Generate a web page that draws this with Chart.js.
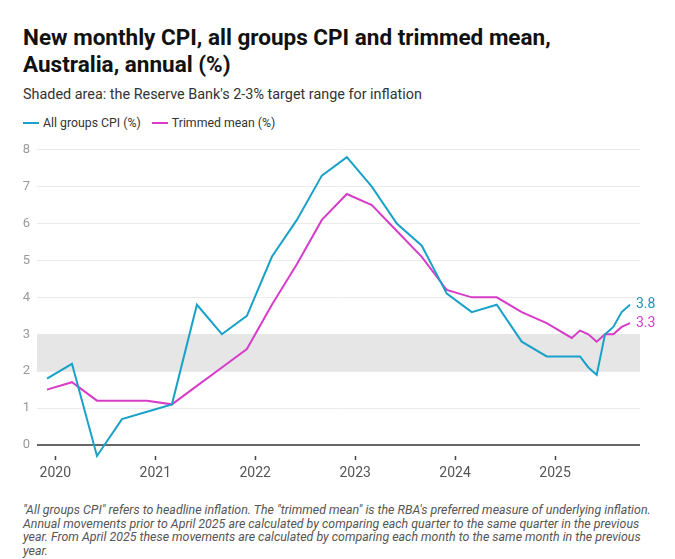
<!DOCTYPE html>
<html lang="en">

<head>
    <meta charset="UTF-8">
    <title>New monthly CPI, all groups CPI and trimmed mean</title>
    <script src="https://cdn.jsdelivr.net/npm/chart.js"></script>
    <style>
        body {
            margin: 0;
            width: 675px;
            height: 559px;
            background: #fff;
            font-family: Roboto, Arial, sans-serif;
            position: relative;
            overflow: hidden;
        }

        .title {
            position: absolute;
            left: 23px;
            top: 24px;
            font-size: 22.5px;
            line-height: 27px;
            font-weight: bold;
            color: #111;
        }

        .subtitle {
            position: absolute;
            left: 23px;
            top: 86px;
            font-size: 14.4px;
            line-height: 18px;
            color: #333;
        }

        .legend {
            position: absolute;
            left: 23px;
            top: 115px;
            font-size: 12.3px;
            line-height: 16px;
            color: #333;
        }

        .legend span.key {
            display: inline-block;
            width: 16px;
            height: 2px;
            vertical-align: middle;
            margin-right: 4px;
            margin-top: -2px;
        }

        .legend .item {
            margin-right: 8px;
        }

        .chart-box {
            position: absolute;
            left: 0;
            top: 135px;
            width: 675px;
            height: 360px;
        }

        .notes {
            position: absolute;
            left: 23px;
            top: 503px;
            font-size: 12.4px;
            line-height: 13.7px;
            font-style: italic;
            color: #555;
            white-space: nowrap;
        }
    </style>
</head>

<body>
    <div class="title">New monthly CPI, all groups CPI and trimmed mean,<br>Australia, annual (%)</div>
    <div class="subtitle">Shaded area: the Reserve Bank's 2-3% target range for inflation</div>
    <div class="legend">
        <span class="item"><span class="key" style="background:#1aa1c8"></span>All groups CPI (%)</span>
        <span class="item"><span class="key" style="background:#d63cc8"></span>Trimmed mean (%)</span>
    </div>
    <div class="chart-box"><canvas id="cpiChart"></canvas></div>
    <div class="notes">
        "All groups CPI" refers to headline inflation. The "trimmed mean" is the RBA's preferred measure of underlying inflation.<br>
        Annual movements prior to April 2025 are calculated by comparing each quarter to the same quarter in the previous<br>
        year. From April 2025 these movements are calculated by comparing each month to the same month in the previous<br>
        year.
    </div>

    <script>
        // quarterly until Mar 2025, monthly from Apr 2025
        const periods = [
            "2019-12", "2020-03", "2020-06", "2020-09", "2020-12",
            "2021-03", "2021-06", "2021-09", "2021-12",
            "2022-03", "2022-06", "2022-09", "2022-12",
            "2023-03", "2023-06", "2023-09", "2023-12",
            "2024-03", "2024-06", "2024-09", "2024-12",
            "2025-03", "2025-04", "2025-05", "2025-06", "2025-07", "2025-08", "2025-09", "2025-10"
        ];
        const allGroups = [
            1.8, 2.2, -0.3, 0.7, 0.9,
            1.1, 3.8, 3.0, 3.5,
            5.1, 6.1, 7.3, 7.8,
            7.0, 6.0, 5.4, 4.1,
            3.6, 3.8, 2.8, 2.4,
            2.4, 2.4, 2.1, 1.9, 3.0, 3.2, 3.6, 3.8
        ];
        const trimmedMean = [
            1.5, 1.7, 1.2, 1.2, 1.2,
            1.1, 1.6, 2.1, 2.6,
            3.8, 4.9, 6.1, 6.8,
            6.5, 5.8, 5.1, 4.2,
            4.0, 4.0, 3.6, 3.3,
            2.9, 3.1, 3.0, 2.8, 3.0, 3.0, 3.2, 3.3
        ];
        const yearTicks = [2020, 2021, 2022, 2023, 2024, 2025];
        const yTicks = [0, 1, 2, 3, 4, 5, 6, 7, 8];
        const targetBand = [2, 3];

        const blue = '#1aa1c8';
        const pink = '#d63cc8';

        // months counted from Jan 2020
        function monthIndex(p) {
            const [y, m] = p.split('-').map(Number);
            return (y - 2020) * 12 + (m - 1);
        }

        function toPoints(values) {
            return periods.map((p, i) => ({ x: monthIndex(p), y: values[i] }));
        }

        const bandPlugin = {
            id: 'band',
            beforeDatasetsDraw(chart) {
                const { ctx, chartArea, scales } = chart;
                const top = scales.y.getPixelForValue(targetBand[1]);
                const bottom = scales.y.getPixelForValue(targetBand[0]);
                ctx.save();
                ctx.fillStyle = '#e6e6e6';
                ctx.fillRect(chartArea.left, top, chartArea.right - chartArea.left, bottom - top);
                // zero line over the band layer
                const y0 = scales.y.getPixelForValue(0);
                ctx.strokeStyle = '#333';
                ctx.lineWidth = 1.5;
                ctx.beginPath();
                ctx.moveTo(chartArea.left, y0);
                ctx.lineTo(chartArea.right, y0);
                ctx.stroke();
                ctx.restore();
            }
        };

        const endLabels = {
            id: 'endLabels',
            afterDatasetsDraw(chart) {
                const ctx = chart.ctx;
                ctx.save();
                ctx.font = '14px Roboto, Arial, sans-serif';
                ctx.textBaseline = 'middle';
                ctx.textAlign = 'left';
                chart.data.datasets.forEach((ds, i) => {
                    const meta = chart.getDatasetMeta(i);
                    const last = meta.data[meta.data.length - 1];
                    const val = ds.data[ds.data.length - 1].y;
                    ctx.fillStyle = ds.labelColor;
                    ctx.fillText(val.toFixed(1), last.x + 6, last.y);
                });
                ctx.restore();
            }
        };

        new Chart(document.getElementById('cpiChart'), {
            type: 'line',
            data: {
                datasets: [
                    {
                        label: 'All groups CPI (%)',
                        data: toPoints(allGroups),
                        borderColor: blue,
                        labelColor: '#1f90b6',
                        borderWidth: 2,
                        pointRadius: 0,
                        tension: 0
                    },
                    {
                        label: 'Trimmed mean (%)',
                        data: toPoints(trimmedMean),
                        borderColor: pink,
                        labelColor: pink,
                        borderWidth: 2,
                        pointRadius: 0,
                        tension: 0
                    }
                ]
            },
            options: {
                responsive: true,
                maintainAspectRatio: false,
                animation: false,
                clip: false,
                layout: {
                    padding: { top: 13, right: 35, bottom: 0, left: 0 }
                },
                plugins: {
                    legend: { display: false },
                    tooltip: { enabled: false }
                },
                scales: {
                    x: {
                        type: 'linear',
                        min: -2.2,
                        max: 70.2,
                        afterBuildTicks(scale) {
                            scale.ticks = yearTicks.map(y => ({ value: (y - 2020) * 12 }));
                        },
                        afterFit(scale) {
                            scale.height = 39;
                        },
                        ticks: {
                            callback: v => String(2020 + v / 12),
                            color: '#555',
                            font: { size: 14, family: 'Roboto' },
                            padding: 5,
                            maxRotation: 0
                        },
                        grid: {
                            drawOnChartArea: false,
                            tickLength: 4,
                            tickWidth: 1.5,
                            color: '#444'
                        },
                        border: { display: false }
                    },
                    y: {
                        min: -0.3,
                        max: 8,
                        afterBuildTicks(scale) {
                            scale.ticks = yTicks.map(v => ({ value: v }));
                        },
                        afterFit(scale) {
                            scale.width = 37;
                        },
                        ticks: {
                            color: '#999',
                            font: { size: 13, family: 'Roboto' },
                            padding: 7
                        },
                        grid: {
                            drawTicks: false,
                            color: ctx => ctx.tick.value === 0 ? 'rgba(0,0,0,0)' : '#ebebeb',
                            lineWidth: 1
                        },
                        border: { display: false }
                    }
                }
            },
            plugins: [bandPlugin, endLabels]
        });
    </script>
</body>

</html>
